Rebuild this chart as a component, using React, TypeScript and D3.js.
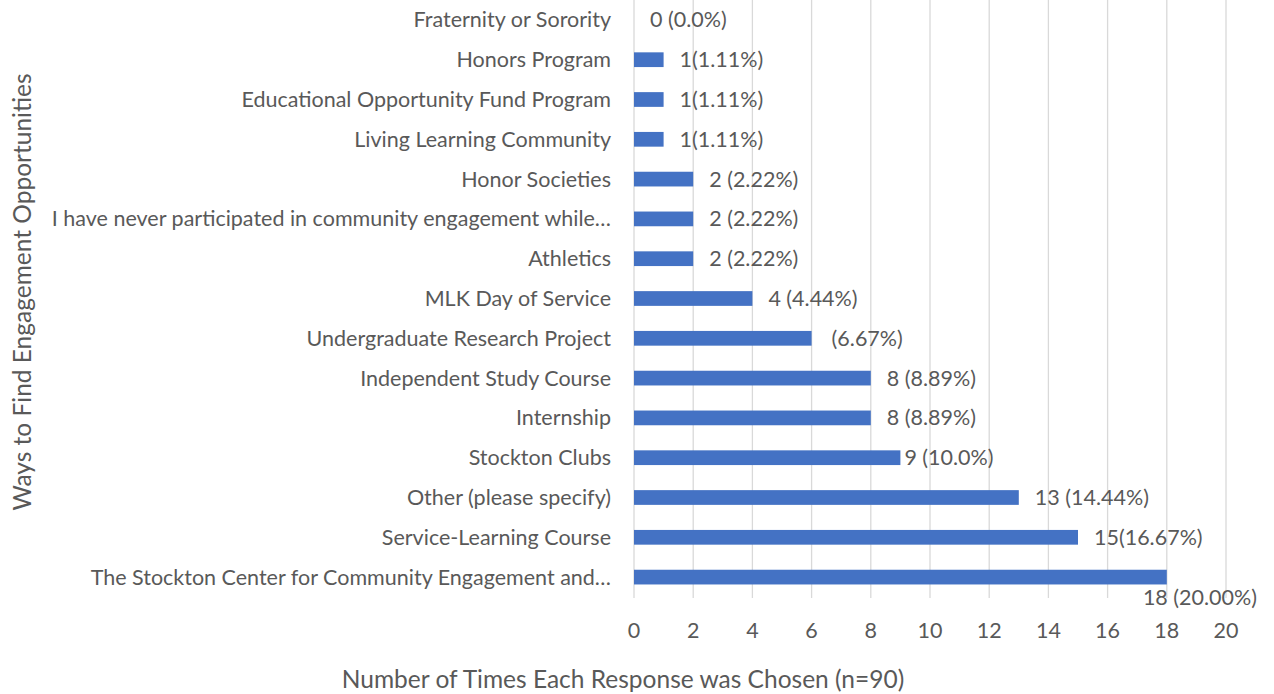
import React from "react";
import * as d3 from "d3";

const categories = [
  "Fraternity or Sorority",
  "Honors Program",
  "Educational Opportunity Fund Program",
  "Living Learning Community",
  "Honor Societies",
  "I have never participated in community engagement while…",
  "Athletics",
  "MLK Day of Service",
  "Undergraduate Research Project",
  "Independent Study Course",
  "Internship",
  "Stockton Clubs",
  "Other (please specify)",
  "Service-Learning Course",
  "The Stockton Center for Community Engagement and…",
];
const values = [0, 1, 1, 1, 2, 2, 2, 4, 6, 8, 8, 9, 13, 15, 18];
const dataLabels = [
  "0 (0.0%)",
  "1(1.11%)",
  "1(1.11%)",
  "1(1.11%)",
  "2 (2.22%)",
  "2 (2.22%)",
  "2 (2.22%)",
  "4 (4.44%)",
  "(6.67%)",
  "8 (8.89%)",
  "8 (8.89%)",
  "9 (10.0%)",
  "13 (14.44%)",
  "15(16.67%)",
  "18 (20.00%)",
];
const xTicks = [0, 2, 4, 6, 8, 10, 12, 14, 16, 18, 20];
const xTitle = "Number of Times Each Response was Chosen (n=90)";
const yTitle = "Ways to Find Engagement Opportunities";

const W = 1274;
const H = 694;
const FONT = "Lato, sans-serif";
const TXT = "#595959";

export default function App() {
  const x = d3.scaleLinear().domain([0, 20]).range([634, 1226]);
  const y = d3.scaleBand<string>().domain(categories).range([0, 597]).paddingInner(0.63).paddingOuter(0.315);
  const bw = y.bandwidth();
  const fs = 21.5;
  const ft = 24.5;
  return (
    <svg width={W} height={H} style={{ position: "absolute", left: 0, top: 0, background: "#fff" }}>
      {xTicks.map((t) => (
        <line key={"g" + t} x1={x(t)} x2={x(t)} y1={0} y2={598} stroke="#d9d9d9" strokeWidth={1.3} />
      ))}
      {categories.map((c, i) => {
        const cy = (y(c) as number) + bw / 2;
        const v = values[i];
        const last = i === categories.length - 1;
        let lx = x(v) + 16;
        let ly = cy;
        let anchor: "start" | "end" = "start";
        if (i === 8) lx = x(v) + 20;
        if (i === 11) lx = x(v) + 4;
        if (last) {
          lx = 1257;
          ly = cy + 20;
          anchor = "end";
        }
        return (
          <g key={c}>
            {v > 0 && <rect x={x(0)} y={y(c)} width={x(v) - x(0)} height={bw} fill="#4472C4" />}
            <text x={611} y={cy} dy="0.35em" textAnchor="end" fontFamily={FONT} fontSize={fs} fill={TXT}>
              {c}
            </text>
            <text x={lx} y={ly} dy="0.35em" textAnchor={anchor} fontFamily={FONT} fontSize={fs} fill={TXT}>
              {dataLabels[i]}
            </text>
          </g>
        );
      })}
      {xTicks.map((t) => (
        <text key={"t" + t} x={x(t)} y={630} dy="0.35em" textAnchor="middle" fontFamily={FONT} fontSize={fs} fill={TXT}>
          {t}
        </text>
      ))}
      <text x={623} y={679} dy="0.35em" textAnchor="middle" fontFamily={FONT} fontSize={ft} fill={TXT}>
        {xTitle}
      </text>
      <text
        transform={`translate(22,292) rotate(-90)`}
        dy="0.35em"
        textAnchor="middle"
        fontFamily={FONT}
        fontSize={ft}
        fill={TXT}
      >
        {yTitle}
      </text>
    </svg>
  );
}
